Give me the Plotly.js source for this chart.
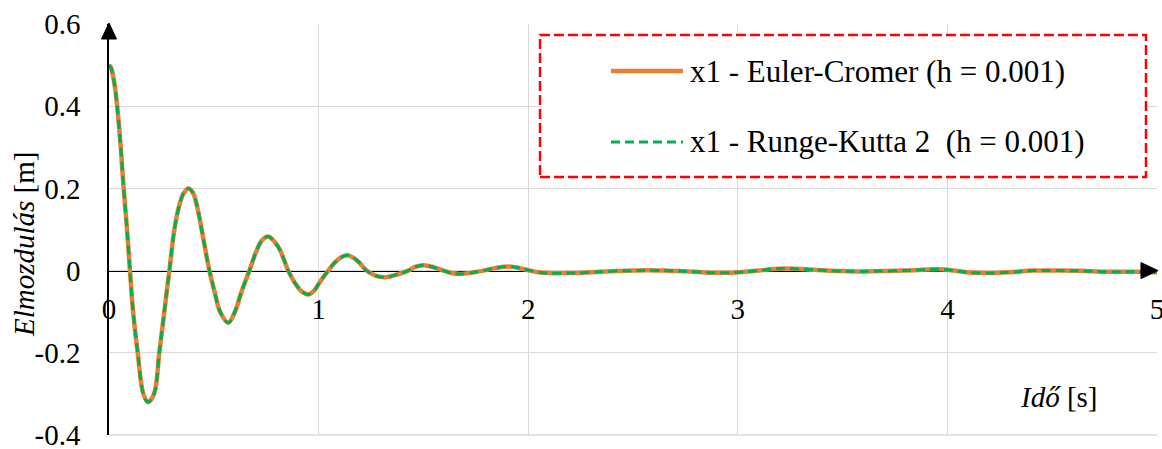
<!DOCTYPE html>
<html>
<head>
<meta charset="utf-8">
<script src="https://cdn.plot.ly/plotly-3.0.1.min.js"></script>
<style>html,body{margin:0;padding:0;background:#fff;}#chart{width:1162px;height:449px;}</style>
</head>
<body>
<div id="chart"></div>
<script>
// time [s]
const timeS = [0, 0.01, 0.02, 0.03, 0.04, 0.056, 0.07, 0.086, 0.10, 0.115, 0.137, 0.164, 0.186, 0.215, 0.24, 0.264, 0.288, 0.312, 0.331, 0.355, 0.378, 0.40, 0.423, 0.442, 0.479, 0.503, 0.53, 0.569, 0.601, 0.633, 0.67, 0.705, 0.732, 0.76, 0.79, 0.816, 0.855, 0.887, 0.92, 0.951, 0.98, 1.003, 1.046, 1.078, 1.11, 1.142, 1.185, 1.229, 1.27, 1.317, 1.37, 1.428, 1.46, 1.50, 1.55, 1.595, 1.635, 1.675, 1.73, 1.786, 1.85, 1.91, 1.96, 2.0, 2.05, 2.10, 2.18, 2.26, 2.34, 2.42, 2.5, 2.57, 2.65, 2.72, 2.8, 2.88, 2.96, 3.03, 3.1, 3.17, 3.23, 3.3, 3.36, 3.42, 3.5, 3.58, 3.68, 3.79, 3.88, 3.965, 4.03, 4.09, 4.2, 4.3, 4.41, 4.54, 4.66, 4.78, 4.9, 5.0];
// x1 displacement, Euler-Cromer (h = 0.001)
const x1EulerCromer = [0.5, 0.493, 0.472, 0.44, 0.395, 0.30, 0.20, 0.10, 0.0, -0.10, -0.20, -0.30, -0.32, -0.30, -0.20, -0.10, 0.0, 0.10, 0.15, 0.187, 0.20, 0.19, 0.15, 0.10, 0.0, -0.05, -0.10, -0.127, -0.10, -0.05, 0.0, 0.05, 0.075, 0.083, 0.07, 0.05, 0.0, -0.03, -0.051, -0.058, -0.048, -0.03, 0.0, 0.02, 0.033, 0.037, 0.024, 0.0, -0.012, -0.016, -0.01, 0.0, 0.009, 0.013, 0.008, 0.0, -0.006, -0.008, -0.005, 0.0, 0.007, 0.010, 0.006, 0.001, -0.004, -0.006, -0.006, -0.005, -0.003, -0.001, 0.0, 0.001, 0.0, -0.001, -0.003, -0.005, -0.005, -0.003, 0.0, 0.004, 0.005, 0.004, 0.002, 0.0, -0.001, -0.002, -0.001, 0.0, 0.002, 0.003, 0.0, -0.004, -0.006, -0.004, 0.0, 0.0, -0.001, -0.003, -0.003, -0.004];
// x1 displacement, Runge-Kutta 2 (h = 0.001)
const x1RungeKutta2 = [0.5, 0.493, 0.472, 0.44, 0.395, 0.30, 0.20, 0.10, 0.0, -0.10, -0.20, -0.30, -0.32, -0.30, -0.20, -0.10, 0.0, 0.10, 0.15, 0.187, 0.20, 0.19, 0.15, 0.10, 0.0, -0.05, -0.10, -0.127, -0.10, -0.05, 0.0, 0.05, 0.075, 0.083, 0.07, 0.05, 0.0, -0.03, -0.051, -0.058, -0.048, -0.03, 0.0, 0.02, 0.033, 0.037, 0.024, 0.0, -0.012, -0.016, -0.01, 0.0, 0.009, 0.013, 0.008, 0.0, -0.006, -0.008, -0.005, 0.0, 0.007, 0.010, 0.006, 0.001, -0.004, -0.006, -0.006, -0.005, -0.003, -0.001, 0.0, 0.001, 0.0, -0.001, -0.003, -0.005, -0.005, -0.003, 0.0, 0.004, 0.005, 0.004, 0.002, 0.0, -0.001, -0.002, -0.001, 0.0, 0.002, 0.003, 0.0, -0.004, -0.006, -0.004, 0.0, 0.0, -0.001, -0.003, -0.003, -0.004];

const seriesNames = ["x1 - Euler-Cromer (h = 0.001)", "x1 - Runge-Kutta 2\u00a0 (h = 0.001)"];
const xTickVals = [0, 1, 2, 3, 4, 5];
const xTickText = ["0", "1", "2", "3", "4", "5"];
const yTickVals = [-0.4, -0.2, 0, 0.2, 0.4, 0.6];
const yTickText = ["-0.4", "-0.2", "0", "0.2", "0.4", "0.6"];
const yTitle = "<i>Elmozdulás</i> [m]";
const xTitle = "<i>Idő</i> [s]";

const FONT = 'Liberation Serif, DejaVu Serif, Times New Roman, serif';
const ORANGE = '#ED7D31';
const GREEN = '#00B050';

const traces = [
  {x: timeS, y: x1EulerCromer, name: seriesNames[0], type: 'scatter', mode: 'lines',
   line: {color: ORANGE, width: 4.5, shape: 'spline', smoothing: 1}},
  {x: timeS, y: x1RungeKutta2, name: seriesNames[1], type: 'scatter', mode: 'lines',
   line: {color: GREEN, width: 3, dash: '9px,5px', shape: 'spline', smoothing: 1}}
];

const layout = {
  width: 1162, height: 449,
  margin: {l: 109, r: 5, t: 24, b: 14, pad: 0},
  paper_bgcolor: '#fff', plot_bgcolor: '#fff',
  font: {family: FONT, size: 29, color: '#000'},
  showlegend: false,
  xaxis: {
    range: [0, 5], tickvals: xTickVals, ticktext: xTickText,
    anchor: 'free', position: 0.4,
    showgrid: true, gridcolor: '#d9d9d9', gridwidth: 1.3,
    zeroline: false, showline: true, linecolor: '#000', linewidth: 1.8,
    ticks: '', ticklabelstandoff: 12, layer: 'below traces', ticklabeloverflow: 'allow',
    tickfont: {family: FONT, size: 29, color: '#000'}
  },
  yaxis: {
    range: [-0.4, 0.6], tickvals: yTickVals, ticktext: yTickText,
    showgrid: true, gridcolor: '#d9d9d9', gridwidth: 1.3,
    zeroline: false, showline: true, linecolor: '#000', linewidth: 1.8,
    ticks: '', ticklabelstandoff: 21, layer: 'below traces', ticklabeloverflow: 'allow',
    tickfont: {family: FONT, size: 29, color: '#000'}
  },
  shapes: [
    // bottom gridline
    {type: 'line', xref: 'paper', yref: 'paper', x0: 0, x1: 1, y0: 0, y1: 0,
     line: {color: '#d9d9d9', width: 1.3}, layer: 'below'},
    // legend frame
    {type: 'rect', xref: 'paper', yref: 'paper', x0: 0.4113, x1: 0.9895, y0: 0.6277, y1: 0.9732,
     fillcolor: '#fff', line: {color: '#FF0000', width: 2.5, dash: '10px,4px'}, layer: 'above'},
    // legend samples
    {type: 'line', xref: 'paper', yref: 'paper', x0: 0.479, x1: 0.5477, y0: 0.8856, y1: 0.8856,
     line: {color: ORANGE, width: 4.5}, layer: 'above'},
    {type: 'line', xref: 'paper', yref: 'paper', x0: 0.479, x1: 0.5477, y0: 0.7129, y1: 0.7129,
     line: {color: GREEN, width: 3, dash: '9px,5px'}, layer: 'above'},
    // axis arrows
    {type: 'path', xref: 'paper', yref: 'paper', path: 'M -0.00716,0.9635 L 0,1.0024 L 0.00716,0.9635 Z',
     fillcolor: '#000', line: {color: '#000', width: 1}, layer: 'above'},
    {type: 'path', xref: 'paper', yref: 'paper', path: 'M 0.9847,0.3805 L 1.001,0.4 L 0.9847,0.4195 Z',
     fillcolor: '#000', line: {color: '#000', width: 1}, layer: 'above'}
  ],
  annotations: [
    {xref: 'paper', yref: 'paper', x: -0.0811, y: 0.4623, text: yTitle, textangle: -90,
     showarrow: false, xanchor: 'center', yanchor: 'middle', font: {family: FONT, size: 29, color: '#000'}},
    {xref: 'x', yref: 'y', x: 4.532, y: -0.307, text: xTitle, showarrow: false,
     xanchor: 'center', yanchor: 'middle', font: {family: FONT, size: 29, color: '#000'}},
    {xref: 'paper', yref: 'paper', x: 0.5525, y: 0.8856, text: seriesNames[0], showarrow: false,
     xanchor: 'left', yanchor: 'middle', font: {family: FONT, size: 31, color: '#000'}},
    {xref: 'paper', yref: 'paper', x: 0.5525, y: 0.7129, text: seriesNames[1], showarrow: false,
     xanchor: 'left', yanchor: 'middle', font: {family: FONT, size: 31, color: '#000'}}
  ]
};

Plotly.newPlot('chart', traces, layout, {staticPlot: true, displayModeBar: false});
</script>
</body>
</html>
